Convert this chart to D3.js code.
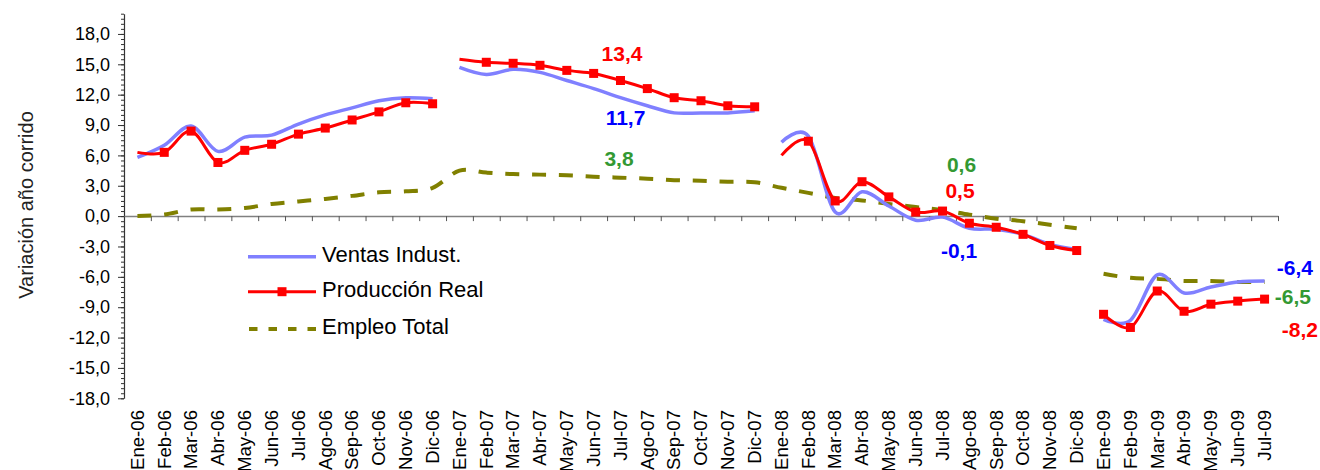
<!DOCTYPE html>
<html>
<head>
<meta charset="utf-8">
<script src="https://cdn.jsdelivr.net/npm/d3@7"></script>
<style>
body { margin: 0; background: #fff; }
text { font-family: "Liberation Sans", Arial, sans-serif; }
</style>
</head>
<body>
<div id="main"></div>
<script>
//categories (months) and series values
const categories = [
  "Ene-06","Feb-06","Mar-06","Abr-06","May-06","Jun-06","Jul-06","Ago-06","Sep-06","Oct-06","Nov-06","Dic-06",
  "Ene-07","Feb-07","Mar-07","Abr-07","May-07","Jun-07","Jul-07","Ago-07","Sep-07","Oct-07","Nov-07","Dic-07",
  "Ene-08","Feb-08","Mar-08","Abr-08","May-08","Jun-08","Jul-08","Ago-08","Sep-08","Oct-08","Nov-08","Dic-08",
  "Ene-09","Feb-09","Mar-09","Abr-09","May-09","Jun-09","Jul-09"
];
const ventas = [
  5.8, 7.0, 8.9, 6.4, 7.8, 8.0, 9.1, 10.0, 10.7, 11.4, 11.7, 11.6,
  14.7, 14.0, 14.5, 14.2, 13.4, 12.6, 11.7, 10.9, 10.2, 10.2, 10.2, 10.4,
  7.3, 7.9, 0.4, 2.4, 1.0, -0.4, -0.1, -1.2, -1.3, -1.8, -2.8, -3.3,
  -10.2, -10.3, -5.8, -7.6, -7.0, -6.5, -6.4
];
const produccion = [
  6.3, 6.3, 8.4, 5.3, 6.5, 7.1, 8.1, 8.7, 9.5, 10.3, 11.2, 11.1,
  15.5, 15.2, 15.1, 14.9, 14.4, 14.1, 13.4, 12.6, 11.7, 11.4, 10.9, 10.8,
  6.0, 7.4, 1.5, 3.4, 1.9, 0.4, 0.5, -0.7, -1.1, -1.8, -2.9, -3.4,
  -9.7, -11.0, -7.4, -9.4, -8.7, -8.4, -8.2
];
const empleo = [
  0.0, 0.15, 0.65, 0.65, 0.8, 1.2, 1.45, 1.7, 2.0, 2.35, 2.45, 2.8,
  4.5, 4.3, 4.15, 4.1, 4.05, 3.9, 3.8, 3.7, 3.55, 3.5, 3.4, 3.35,
  2.8, 2.3, 1.8, 1.55, 1.2, 0.9, 0.6, 0.15, -0.25, -0.5, -0.85, -1.2,
  -5.7, -6.1, -6.2, -6.4, -6.4, -6.5, -6.5
];
//where each line restarts (year breaks)
const ventasStarts = [0, 12, 24, 36];
const produccionStarts = [0, 12, 24, 36];
const empleoStarts = [0, 36];
//points drawn without marker
const noMarker = ["Ene-06", "Ene-07", "Ene-08"];
//y axis tick values
const yTicks = [-18, -15, -12, -9, -6, -3, 0, 3, 6, 9, 12, 15, 18];
//legend names
const legendNames = ["Ventas Indust.", "Producción Real", "Empleo Total"];
//data labels
const labelCats = ["Jul-07", "Jul-07", "Jul-07", "Jul-08", "Jul-08", "Jul-08", "Jul-09", "Jul-09", "Jul-09"];
const labelSeries = ["produccion", "ventas", "empleo", "empleo", "produccion", "ventas", "ventas", "empleo", "produccion"];
const labelTexts = ["13,4", "11,7", "3,8", "0,6", "0,5", "-0,1", "-6,4", "-6,5", "-8,2"];

//sizes
const width = 1320;
const height = 470;
const plotLeft = 124, plotRight = 1278, plotTop = 13.7, plotBottom = 398.3;

const svg = d3.select('#main')
  .append('svg')
  .attr('width', width)
  .attr('height', height);

const seriesData = { ventas: ventas, produccion: produccion, empleo: empleo };
const colors = { ventas: "#8080FF", produccion: "#FF0000", empleo: "#808000" };
const labelColors = { ventas: "#0000FF", produccion: "#FF0000", empleo: "#339933" };

//scales
const xScale = d3.scaleBand().domain(categories).range([plotLeft, plotRight]).padding(0);
const xEdge = d3.scaleLinear().domain([0, categories.length]).range([plotLeft, plotRight]);
const yScale = d3.scaleLinear().domain([-18, 20]).range([plotBottom, plotTop]);
const cx = c => xScale(c) + xScale.bandwidth() / 2;

const fmt = d3.formatLocale({ decimal: ",", thousands: ".", grouping: [3], currency: ["$", ""], minus: "-" }).format(".1f");

//y axis minor ticks
svg.append("g")
  .attr("transform", "translate(" + plotLeft + ",0)")
  .call(d3.axisLeft(yScale).tickValues(d3.range(-18, 20.01, 0.5)).tickSize(3).tickFormat(""))
  .call(g => g.selectAll("line").attr("stroke", "#333"))
  .call(g => g.select(".domain").remove());

//y axis
const yAxis = svg.append("g").attr("id", "y-axis")
  .attr("transform", "translate(" + plotLeft + ",0)")
  .call(d3.axisLeft(yScale).tickValues(yTicks).tickSize(6).tickSizeOuter(0).tickPadding(8).tickFormat(fmt));
yAxis.select(".domain").attr("stroke", "#333").attr("stroke-width", 1.2);
yAxis.selectAll("line").attr("stroke", "#333");
yAxis.selectAll("text").attr("font-size", 18).attr("fill", "#000")
  .style("font-family", '"Liberation Sans", Arial, sans-serif');

//x axis at zero
const xAxis = svg.append("g").attr("id", "x-axis")
  .attr("transform", "translate(0," + yScale(0) + ")")
  .call(d3.axisBottom(xEdge).tickValues(d3.range(1, categories.length + 1)).tickSize(5).tickSizeOuter(0).tickFormat(""));
xAxis.select(".domain").attr("stroke", "#808080").attr("stroke-width", 1.5);
xAxis.selectAll("line").attr("stroke", "#555");

//x labels at the bottom
svg.append("g").selectAll("text").data(categories).enter()
  .append("text")
  .attr("transform", d => "translate(" + (cx(d) + 6.3) + ",410) rotate(-90)")
  .attr("text-anchor", "end")
  .attr("font-size", 18.6)
  .text(d => d);

//axis title
svg.append("text")
  .attr("transform", "translate(33,205) rotate(-90)")
  .attr("text-anchor", "middle")
  .attr("font-size", 20)
  .attr("fill", "#222")
  .text("Variación año corrido");

//split a series into its segments
function segments(values, starts) {
  return starts.map((s, k) => {
    const e = k + 1 < starts.length ? starts[k + 1] : values.length;
    return d3.range(s, e).map(i => ({ c: categories[i], v: values[i] }));
  });
}

const line = d3.line()
  .x(d => cx(d.c))
  .y(d => yScale(d.v))
  .curve(d3.curveCardinal.tension(0));

//empleo dashed
svg.append("g").selectAll("path").data(segments(empleo, empleoStarts)).enter()
  .append("path")
  .attr("d", line)
  .attr("fill", "none")
  .attr("stroke", colors.empleo)
  .attr("stroke-width", 4)
  .attr("stroke-dasharray", "14,12.8");

//ventas
svg.append("g").selectAll("path").data(segments(ventas, ventasStarts)).enter()
  .append("path")
  .attr("d", line)
  .attr("fill", "none")
  .attr("stroke", colors.ventas)
  .attr("stroke-width", 3.5)
  .attr("stroke-linejoin", "round");

//produccion
svg.append("g").selectAll("path").data(segments(produccion, produccionStarts)).enter()
  .append("path")
  .attr("d", line)
  .attr("fill", "none")
  .attr("stroke", colors.produccion)
  .attr("stroke-width", 3)
  .attr("stroke-linejoin", "round");

//markers
svg.append("g").selectAll("rect")
  .data(categories.map((c, i) => ({ c: c, v: produccion[i] })).filter(d => noMarker.indexOf(d.c) < 0))
  .enter().append("rect")
  .attr("x", d => cx(d.c) - 4.5)
  .attr("y", d => yScale(d.v) - 4.5)
  .attr("width", 9)
  .attr("height", 9)
  .attr("fill", colors.produccion);

//data labels
const labelShift = [[1.5, -19], [5, 27], [-1.5, -12], [19, -38.5], [17.5, -13], [16.5, 41], [30.3, -6], [28.3, 21.6], [35.3, 37.4]];
svg.append("g").selectAll("text").data(labelTexts).enter()
  .append("text")
  .attr("x", (d, i) => cx(labelCats[i]) + labelShift[i][0])
  .attr("y", (d, i) => yScale(seriesData[labelSeries[i]][categories.indexOf(labelCats[i])]) + labelShift[i][1])
  .attr("text-anchor", "middle")
  .attr("font-size", 21)
  .attr("font-weight", "bold")
  .attr("fill", (d, i) => labelColors[labelSeries[i]])
  .text(d => d);

//legend
const legendKeys = ["ventas", "produccion", "empleo"];
const legendY = [256.7, 291.7, 329];
const legend = svg.append("g").attr("id", "legend")
  .selectAll("g").data(legendKeys).enter()
  .append("g")
  .attr("transform", (d, i) => "translate(0," + legendY[i] + ")");

legend.append("line")
  .attr("x1", d => d === "empleo" ? 249 : 248).attr("x2", 316)
  .attr("stroke", d => colors[d])
  .attr("stroke-width", d => d === "ventas" ? 3.5 : d === "empleo" ? 4 : 3)
  .attr("stroke-dasharray", d => d === "empleo" ? "8.5,11" : null);

legend.filter(d => d === "produccion").append("rect")
  .attr("x", 277.5).attr("y", -4.5).attr("width", 9).attr("height", 9)
  .attr("fill", colors.produccion);

legend.append("text")
  .attr("x", 322)
  .attr("y", (d, i) => [5.2, 5.6, 4.5][i])
  .attr("font-size", 22)
  .text((d, i) => legendNames[i]);
</script>
</body>
</html>
